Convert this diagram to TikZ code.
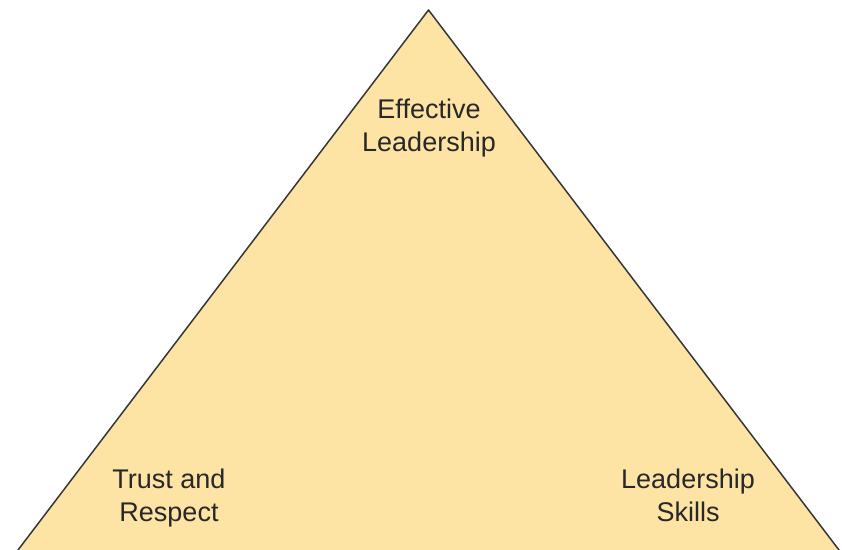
\documentclass[tikz,border=0pt]{standalone}
\usepackage{fontspec}
\setmainfont{Liberation Sans}
\definecolor{pyrfill}{RGB}{253,227,164}
\definecolor{pyrline}{RGB}{55,55,55}
\definecolor{pyrtext}{RGB}{40,40,40}
\tikzset{
  corner/.style={align=center,text=pyrtext,font=\fontsize{27}{33}\selectfont}
}
\begin{document}
\begin{tikzpicture}[x=1pt,y=1pt]
\useasboundingbox (0,0) rectangle (842,549);
\clip (0,0) rectangle (842,549);
\coordinate (apex) at (428.5,539);
\coordinate (left) at (16.5,-3);
\coordinate (right) at (840.5,-3);
\filldraw[fill=pyrfill,draw=pyrline,line width=1.5pt,line join=round] (left) -- (apex) -- (right) -- cycle;
\node[corner] (top) at (429,421) {Effective\\Leadership};
\node[corner] (trust) at (169,50.5) {Trust and\\Respect};
\node[corner] (skills) at (688,53.5) {Leadership\\Skills};
\end{tikzpicture}
\end{document}
